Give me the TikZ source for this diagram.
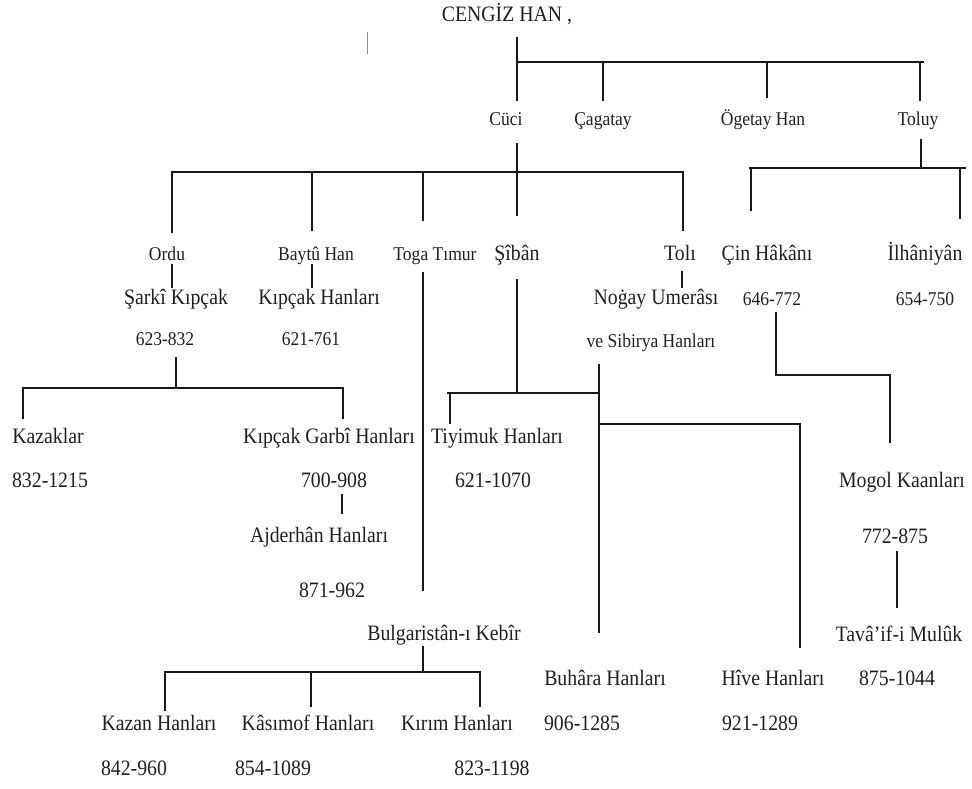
\documentclass[tikz,border=0pt]{standalone}
\usepackage{fontspec}
\setmainfont{Liberation Serif}[FakeStretch=0.9]
\usetikzlibrary{positioning}

\tikzset{
  big/.style={font=\fontsize{22}{24}\selectfont, text=black!88, inner sep=0pt, anchor=mid},
  small/.style={font=\fontsize{19.5}{22}\selectfont, text=black!88, inner sep=0pt, anchor=mid},
  branch/.style={line width=2.8pt, black!90, line cap=rect},
}

\begin{document}
\begin{tikzpicture}[x=1pt,y=-1pt]
    \useasboundingbox (0,0) rectangle (972,788);

    % the names and the dates
    \node[big] (cengiz) at (507,19) {CENGİZ HAN ,};

    \node[small] (cuci) at (506,123) {Cüci};
    \node[small] (cagatay) at (603,123) {Çagatay};
    \node[small] (ogetay) at (763,123) {Ögetay Han};
    \node[small] (toluy) at (918,123) {Toluy};

    \node[small] (ordu) at (167,258) {Ordu};
    \node[small] (baytu) at (316,258) {Baytû Han};
    \node[small] (toga) at (435,258) {Toga Tımur};
    \node[big] (siban) at (517,258) {Şîbân};
    \node[big] (toli) at (680,258) {Tolı};
    \node[big] (cin) at (767,258) {Çin Hâkânı};
    \node[big] (ilhan) at (925,258) {İlhâniyân};

    \node[big] (sarki) at (176,302) {Şarkî Kıpçak};
    \node[big] (kipcak) at (319,302) {Kıpçak Hanları};
    \node[big] (nogay) at (656,302) {Noġay Umerâsı};
    \node[small] (cinDate) at (772,303) {646-772};
    \node[small] (ilhanDate) at (925,303) {654-750};

    \node[small] (sarkiDate) at (165,343) {623-832};
    \node[small] (kipcakDate) at (311,343) {621-761};
    \node[small] (sibirya) at (651,345) {ve Sibirya Hanları};

    \node[big] (kazak) at (48,441) {Kazaklar};
    \node[big] (garbi) at (329,441) {Kıpçak Garbî Hanları};
    \node[big] (tiyimuk) at (497,441) {Tiyimuk Hanları};
    \node[big] (kazakDate) at (50,485) {832-1215};
    \node[big] (garbiDate) at (334,485) {700-908};
    \node[big] (tiyimukDate) at (493,485) {621-1070};
    \node[big] (mogol) at (902,485) {Mogol Kaanları};

    \node[big] (ajder) at (319,540) {Ajderhân Hanları};
    \node[big] (mogolDate) at (895,541) {772-875};
    \node[big] (ajderDate) at (332,595) {871-962};

    \node[big] (bulgar) at (444,638) {Bulgaristân-ı Kebîr};
    \node[big] (tavaif) at (899,639) {Tavâ’if-i Mulûk};

    \node[big] (buhara) at (605,683) {Buhâra Hanları};
    \node[big] (hive) at (773,683) {Hîve Hanları};
    \node[big] (tavaifDate) at (897,683) {875-1044};

    \node[big] (kazan) at (159,728) {Kazan Hanları};
    \node[big] (kasimof) at (308,728) {Kâsımof Hanları};
    \node[big] (kirim) at (457,728) {Kırım Hanları};
    \node[big] (buharaDate) at (582,728) {906-1285};
    \node[big] (hiveDate) at (760,728) {921-1289};

    \node[big] (kazanDate) at (134,773) {842-960};
    \node[big] (kasimofDate) at (273,773) {854-1089};
    \node[big] (kirimDate) at (492,773) {823-1198};

    % the branch points
    \coordinate (cengizStem) at (517,38);
    \coordinate (cengizBarL) at (517,62);
    \coordinate (cengizBarR) at (923,62);
    \coordinate (cuciUp) at (517,100);
    \coordinate (cagatayUp) at (603,100);
    \coordinate (ogetayUp) at (767,97);
    \coordinate (toluyUp) at (920,100);

    \coordinate (cuciDown) at (517,144);
    \coordinate (sibanUp) at (517,215);
    \coordinate (cuciBarL) at (172,172);
    \coordinate (cuciBarR) at (683,172);
    \coordinate (orduUp) at (172,232);
    \coordinate (baytuUp) at (312,230);
    \coordinate (togaUp) at (423,220);
    \coordinate (toliUp) at (683,230);

    \coordinate (toluyDown) at (921,140);
    \coordinate (toluyBarL) at (750,168);
    \coordinate (toluyBarR) at (965,168);
    \coordinate (cinUp) at (751,210);
    \coordinate (ilhanUp) at (960,218);

    \coordinate (orduDown) at (172,265);
    \coordinate (sarkiUp) at (172,287);
    \coordinate (baytuDown) at (312,265);
    \coordinate (kipcakUp) at (312,287);
    \coordinate (toliDown) at (682,272);
    \coordinate (nogayUp) at (682,287);

    \coordinate (togaDown) at (423,273);
    \coordinate (togaEnd) at (423,590);

    \coordinate (sarkiDown) at (176,358);
    \coordinate (sarkiBar) at (176,388);
    \coordinate (sarkiBarL) at (23,388);
    \coordinate (sarkiBarR) at (343,388);
    \coordinate (kazakUp) at (23,418);
    \coordinate (garbiUp) at (343,418);
    \coordinate (garbiDown) at (342,495);
    \coordinate (ajderUp) at (342,513);

    \coordinate (sibanDown) at (517,280);
    \coordinate (sibanBar) at (517,393);
    \coordinate (sibanBarL) at (448,393);
    \coordinate (sibanBarR) at (599,393);
    \coordinate (tiyimukUp) at (450,423);
    \coordinate (sibiryaDown) at (599,365);
    \coordinate (buharaUp) at (599,632);
    \coordinate (hiveBarL) at (599,424);
    \coordinate (hiveBarR) at (800,424);
    \coordinate (hiveUp) at (800,647);

    \coordinate (cinDown) at (776,313);
    \coordinate (cinBend) at (776,375);
    \coordinate (mogolUp) at (890,442);
    \coordinate (mogolDown) at (897,552);
    \coordinate (tavaifUp) at (897,607);

    \coordinate (bulgarDown) at (423,647);
    \coordinate (bulgarBar) at (423,672);
    \coordinate (bulgarBarL) at (165,672);
    \coordinate (bulgarBarR) at (480,672);
    \coordinate (kazanUp) at (165,710);
    \coordinate (kasimofUp) at (311,706);
    \coordinate (kirimUp) at (480,706);

    \coordinate (strayTop) at (367,32);
    \coordinate (strayBottom) at (367,54);

    % the lines
    \draw[line width=1pt, black!45] (strayTop) -- (strayBottom);

    \draw[branch] (cengizStem) -- (cuciUp);
    \draw[branch] (cengizBarL) -- (cengizBarR);
    \foreach \c in {cagatayUp,ogetayUp,toluyUp}
        \draw[branch] (\c |- cengizBarL) -- (\c);

    \draw[branch] (cuciDown) -- (sibanUp);
    \draw[branch] (cuciBarL) -- (cuciBarR);
    \foreach \c in {orduUp,baytuUp,togaUp,toliUp}
        \draw[branch] (\c |- cuciBarL) -- (\c);

    \draw[branch] (toluyDown) -- (toluyDown |- toluyBarL);
    \draw[branch] (toluyBarL) -- (toluyBarR);
    \foreach \c in {cinUp,ilhanUp}
        \draw[branch] (\c |- toluyBarL) -- (\c);

    \draw[branch] (orduDown) -- (sarkiUp);
    \draw[branch] (baytuDown) -- (kipcakUp);
    \draw[branch] (toliDown) -- (nogayUp);
    \draw[branch] (togaDown) -- (togaEnd);

    \draw[branch] (sarkiDown) -- (sarkiBar);
    \draw[branch] (sarkiBarL) -- (sarkiBarR);
    \foreach \c in {kazakUp,garbiUp}
        \draw[branch] (\c |- sarkiBar) -- (\c);
    \draw[branch] (garbiDown) -- (ajderUp);

    \draw[branch] (sibanDown) -- (sibanBar);
    \draw[branch] (sibanBarL) -- (sibanBarR);
    \draw[branch] (tiyimukUp |- sibanBar) -- (tiyimukUp);
    \draw[branch] (sibiryaDown) -- (buharaUp);
    \draw[branch] (hiveBarL) -- (hiveBarR) -- (hiveUp);

    \draw[branch] (cinDown) -- (cinBend) -| (mogolUp);
    \draw[branch] (mogolDown) -- (tavaifUp);

    \draw[branch] (bulgarDown) -- (bulgarBar);
    \draw[branch] (bulgarBarL) -- (bulgarBarR);
    \foreach \c in {kazanUp,kasimofUp,kirimUp}
        \draw[branch] (\c |- bulgarBar) -- (\c);
\end{tikzpicture}
\end{document}
